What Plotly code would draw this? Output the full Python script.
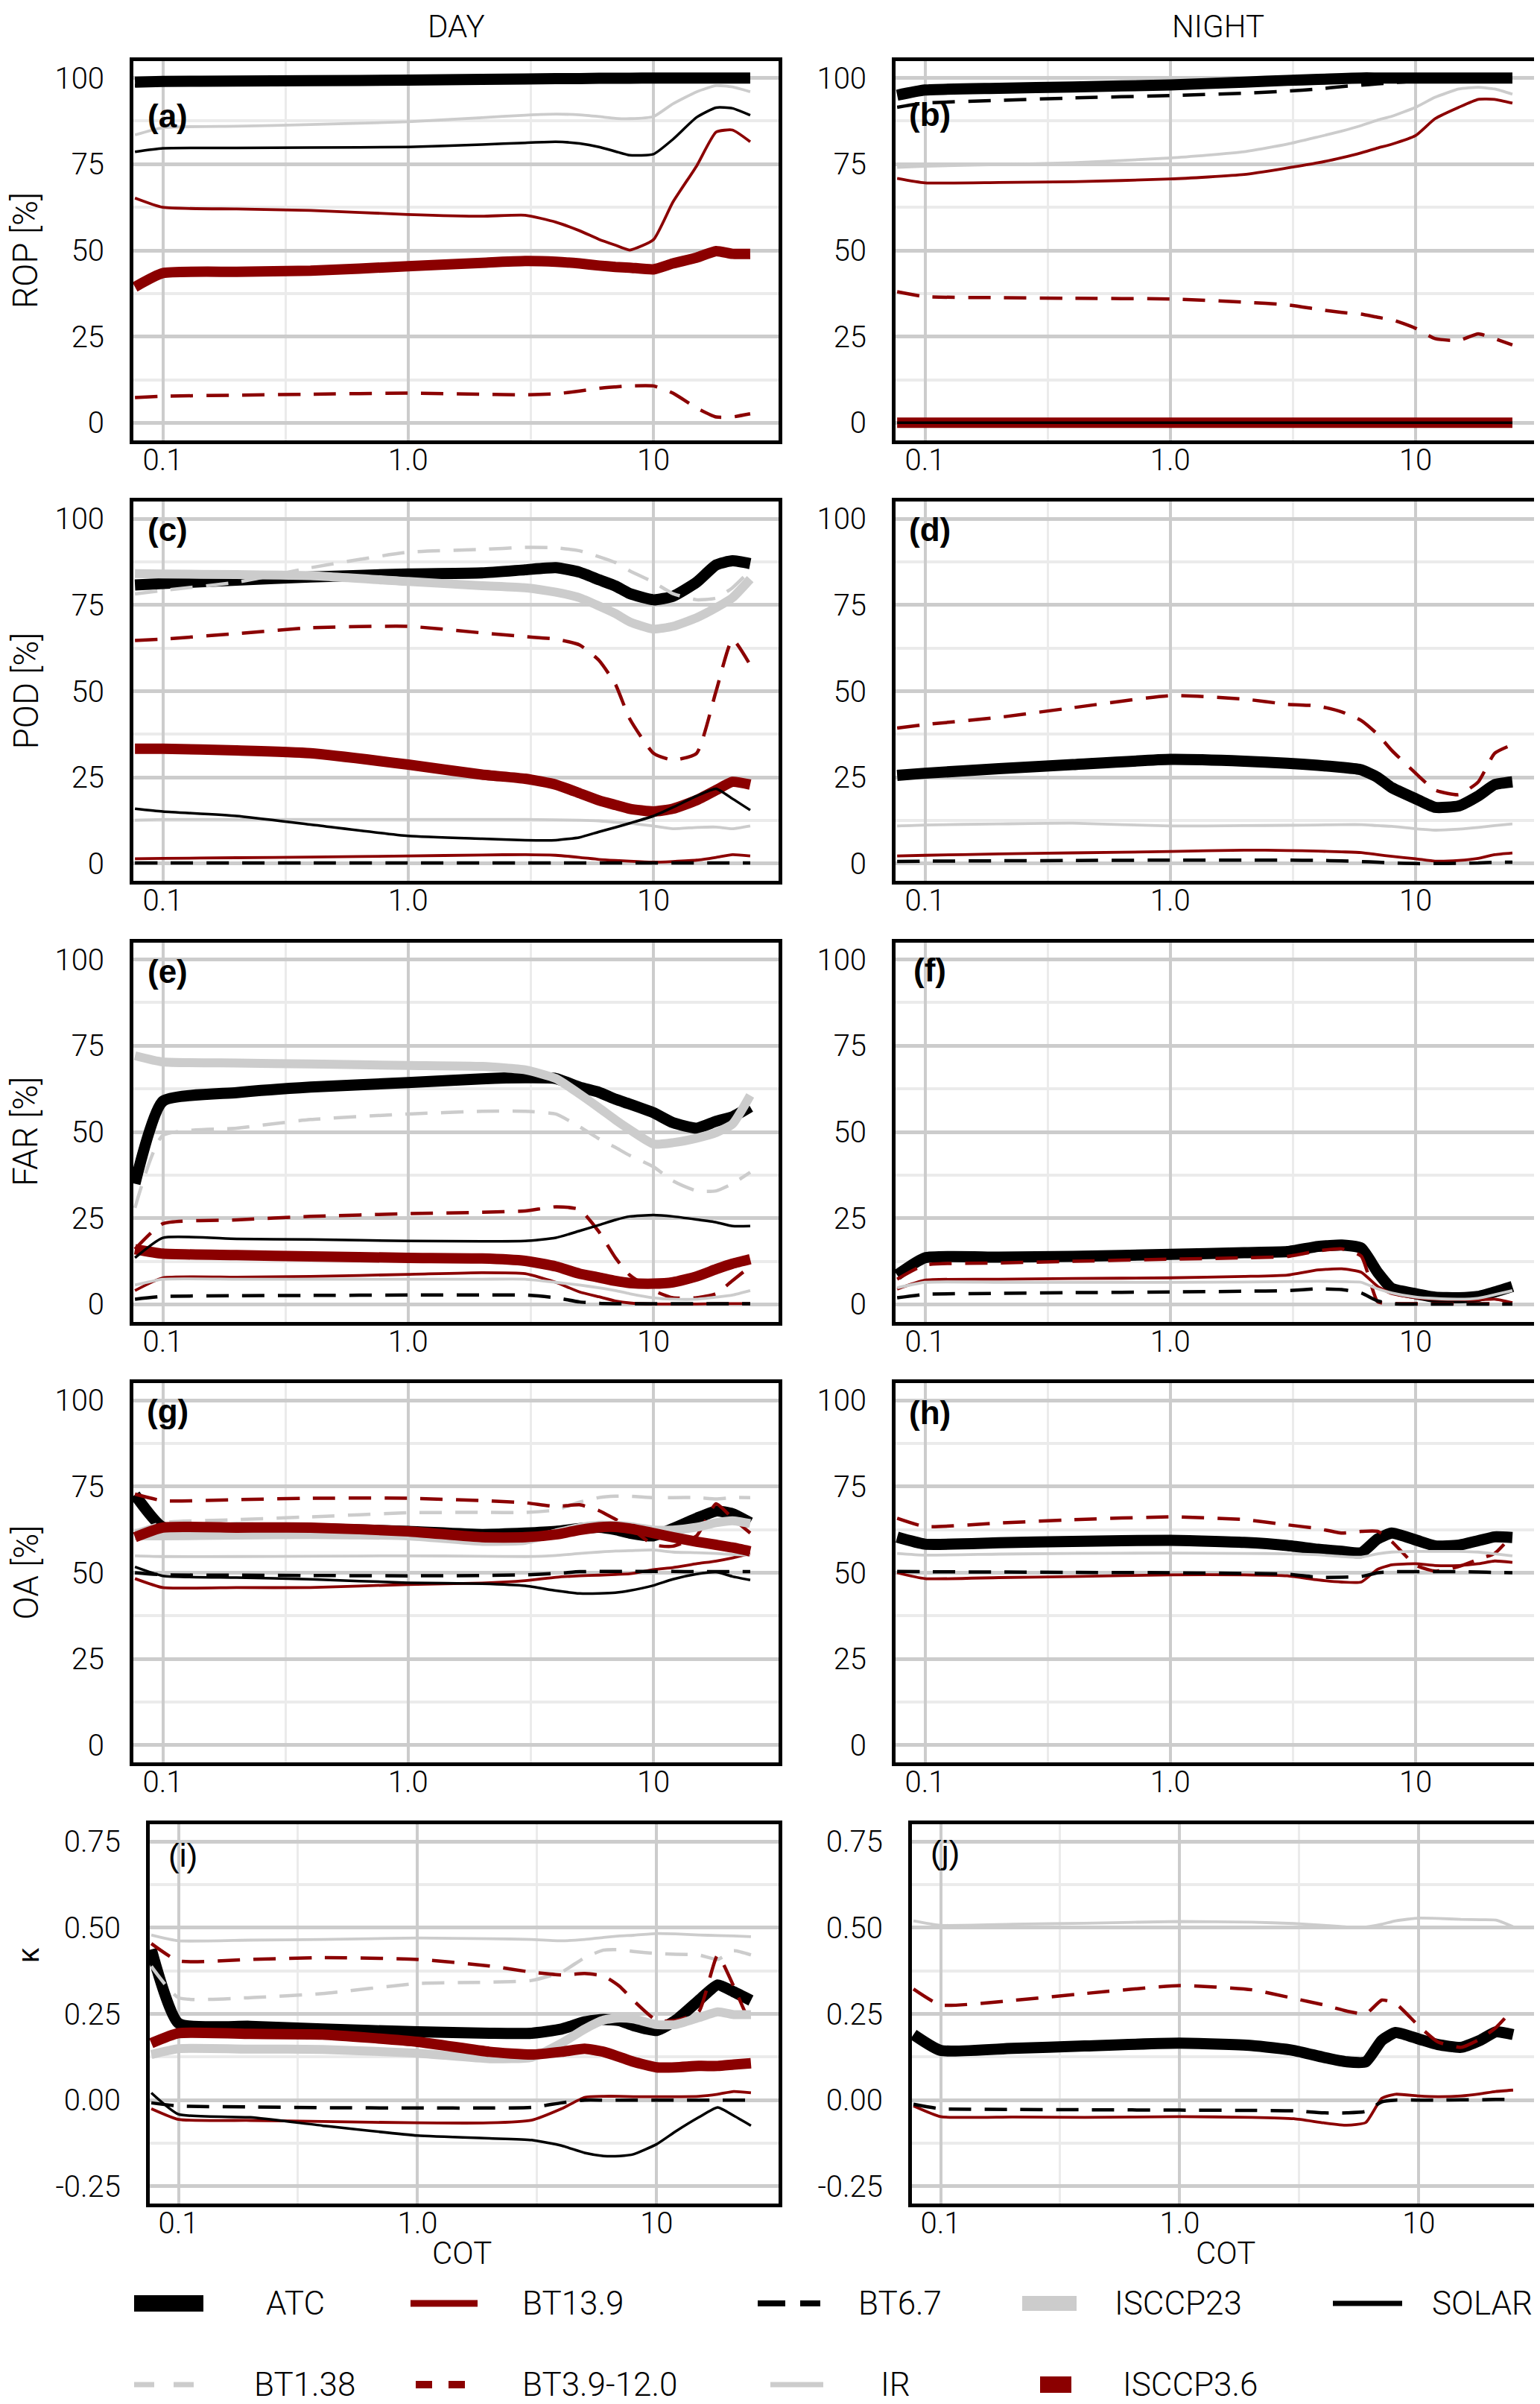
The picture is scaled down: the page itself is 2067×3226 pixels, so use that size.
import plotly.graph_objects as go

W, H = 2067, 3226

COT = [0.077, 0.1, 0.2, 0.4, 1.0, 2.0, 3.0, 4.0, 5.0, 6.0, 7.0, 8.0, 10.0, 12.0, 15.0, 18.0, 21.0, 24.8]
SERIES_ORDER = ["ATC", "BT1.38", "BT13.9", "BT3.9-12.0", "BT6.7", "IR", "ISCCP23", "ISCCP3.6", "SOLAR"]

ROP_DAY = {
    "ATC":       [98.8, 99.0, 99.1, 99.2, 99.4, 99.6, 99.7, 99.8, 99.8, 99.9, 99.9, 99.9, 100, 100, 100, 100, 100, 100],
    "BT6.7":     [97.8, 98.0, 98.2, 98.4, 98.7, 99.0, 99.2, 99.3, 99.4, 99.5, 99.6, 99.7, 99.8, 99.9, 100, 100, 100, 100],
    "IR":        [83.5, 85.6, 86.0, 86.5, 87.3, 88.5, 89.2, 89.5, 89.3, 88.8, 88.3, 88.2, 88.8, 92.5, 96.0, 97.8, 97.4, 96.0],
    "SOLAR":     [78.6, 79.6, 79.7, 79.8, 80.0, 80.7, 81.2, 81.5, 81.0, 80.0, 78.7, 77.6, 77.9, 82.2, 88.6, 91.4, 91.2, 89.2],
    "BT13.9":    [65.2, 62.5, 62.0, 61.6, 60.4, 59.9, 60.2, 58.2, 55.7, 53.2, 51.5, 50.1, 53.1, 64.0, 74.5, 84.3, 84.9, 81.5],
    "ISCCP3.6":  [39.4, 43.4, 43.8, 44.1, 45.4, 46.4, 46.9, 46.7, 46.2, 45.6, 45.2, 45.0, 44.5, 46.2, 47.9, 49.8, 49.0, 49.0],
    "BT3.9-12.0": [7.3, 7.7, 8.0, 8.3, 8.6, 8.3, 8.1, 8.4, 9.2, 10.0, 10.4, 10.7, 10.7, 8.6, 4.3, 1.7, 1.7, 2.6],
}
ROP_NIGHT = {
    "ATC":       [95.0, 96.5, 97.0, 97.4, 98.0, 98.8, 99.3, 99.6, 99.8, 100, 100, 100, 100, 100, 100, 100, 100, 100],
    "BT6.7":     [91.5, 92.7, 93.5, 94.2, 94.9, 95.6, 96.2, 96.8, 97.5, 97.9, 98.3, 98.6, 99.1, 99.5, 99.8, 100, 100, 100],
    "IR":        [74.1, 74.4, 74.9, 75.4, 76.8, 78.6, 80.8, 82.9, 84.6, 86.2, 87.8, 88.9, 91.5, 94.4, 96.8, 97.3, 96.8, 95.3],
    "BT13.9":    [70.9, 69.6, 69.7, 69.9, 70.7, 72.0, 73.9, 75.4, 76.9, 78.3, 79.7, 80.8, 83.3, 88.2, 91.5, 93.8, 93.8, 92.7],
    "BT3.9-12.0": [38.0, 36.6, 36.3, 36.1, 35.9, 35.0, 34.2, 32.9, 32.0, 31.5, 30.6, 29.9, 27.4, 24.4, 23.9, 25.8, 24.4, 22.6],
    "ISCCP3.6":  [0, 0, 0, 0, 0, 0, 0, 0, 0, 0, 0, 0, 0, 0, 0, 0, 0, 0],
    "SOLAR":     [0, 0, 0, 0, 0, 0, 0, 0, 0, 0, 0, 0, 0, 0, 0, 0, 0, 0],
}
POD_DAY = {
    "ATC":       [80.8, 81.2, 82.2, 83.1, 84.0, 84.3, 85.2, 85.8, 84.5, 82.3, 80.5, 78.3, 76.5, 77.5, 81.6, 86.6, 87.8, 87.0],
    "BT1.38":    [78.2, 79.2, 81.6, 85.8, 90.3, 91.1, 91.7, 91.6, 90.7, 89.0, 87.3, 84.9, 81.6, 78.3, 76.5, 77.0, 80.0, 85.0],
    "BT13.9":    [1.4, 1.5, 1.7, 1.9, 2.2, 2.5, 2.6, 2.4, 1.8, 1.2, 0.9, 0.7, 0.4, 0.6, 1.0, 1.8, 2.6, 2.2],
    "BT3.9-12.0": [64.7, 65.1, 66.7, 68.4, 68.8, 66.9, 65.8, 65.1, 63.4, 58.9, 52.0, 42.0, 32.0, 30.0, 32.0, 50.0, 65.0, 57.6],
    "BT6.7":     [0.2, 0.2, 0.2, 0.2, 0.2, 0.2, 0.2, 0.2, 0.2, 0.2, 0.2, 0.2, 0.2, 0.2, 0.2, 0.2, 0.2, 0.2],
    "IR":        [12.6, 12.8, 12.8, 12.8, 12.8, 12.8, 12.8, 12.7, 12.6, 12.4, 12.0, 11.7, 10.9, 10.1, 10.5, 10.6, 10.1, 10.9],
    "ISCCP23":   [84.1, 84.0, 83.8, 83.5, 81.8, 80.6, 80.0, 78.7, 77.1, 74.7, 72.5, 70.1, 68.0, 68.8, 71.3, 74.2, 77.1, 82.5],
    "ISCCP3.6":  [33.3, 33.3, 32.8, 32.0, 28.7, 25.8, 24.6, 22.9, 20.4, 18.3, 17.0, 15.9, 15.1, 15.9, 18.4, 21.3, 23.7, 22.9],
    "SOLAR":     [15.9, 15.1, 13.8, 11.3, 8.0, 7.2, 6.8, 6.8, 7.6, 9.2, 10.5, 11.7, 13.8, 16.3, 19.6, 21.7, 18.8, 15.5],
}
POD_NIGHT = {
    "ATC":       [25.6, 26.2, 27.5, 28.7, 30.2, 29.7, 29.1, 28.5, 27.9, 27.2, 25.0, 22.0, 18.8, 16.3, 16.7, 19.6, 22.9, 23.7],
    "BT13.9":    [2.2, 2.4, 2.8, 3.1, 3.5, 3.9, 3.8, 3.6, 3.4, 3.2, 2.6, 2.1, 1.4, 0.7, 0.9, 1.5, 2.6, 3.1],
    "BT3.9-12.0": [39.3, 40.3, 42.4, 45.2, 48.7, 47.7, 46.2, 45.7, 44.0, 41.5, 37.5, 32.8, 26.2, 21.3, 20.0, 23.7, 32.0, 34.5],
    "BT6.7":     [0.6, 0.7, 0.8, 0.9, 1.0, 1.0, 1.0, 0.9, 0.8, 0.6, 0.4, 0.2, 0.0, 0.0, 0.1, 0.2, 0.4, 0.4],
    "IR":        [10.9, 11.2, 11.5, 11.7, 10.9, 11.0, 11.1, 11.2, 11.3, 11.3, 11.0, 10.8, 10.1, 9.7, 10.0, 10.5, 11.0, 11.5],
}
FAR_DAY = {
    "ATC":       [35.0, 58.9, 61.4, 63.0, 64.3, 65.4, 65.7, 65.5, 63.0, 61.5, 59.5, 58.1, 55.6, 52.7, 51.1, 53.1, 54.4, 57.3],
    "BT1.38":    [28.0, 49.0, 51.1, 53.6, 55.2, 56.0, 56.0, 55.2, 51.5, 48.0, 45.5, 43.2, 39.9, 35.8, 32.9, 32.9, 35.0, 38.3],
    "BT13.9":    [4.0, 7.7, 7.9, 8.1, 8.7, 9.2, 8.9, 6.4, 3.6, 2.2, 1.0, 0.4, 0.1, 0.1, 0.1, 0.2, 0.2, 0.2],
    "BT3.9-12.0": [16.0, 23.4, 24.5, 25.5, 26.3, 26.7, 27.1, 28.3, 27.5, 21.0, 13.5, 8.5, 4.0, 1.9, 1.9, 3.1, 6.9, 11.0],
    "BT6.7":     [1.5, 2.3, 2.5, 2.6, 2.7, 2.7, 2.7, 1.9, 0.7, 0.3, 0.2, 0.2, 0.2, 0.2, 0.2, 0.2, 0.2, 0.2],
    "IR":        [5.6, 7.3, 7.3, 7.3, 7.3, 7.3, 7.3, 6.4, 5.6, 4.8, 4.0, 3.1, 1.9, 1.5, 1.5, 2.1, 2.7, 4.0],
    "ISCCP23":   [72.1, 70.3, 70.0, 69.7, 69.3, 69.0, 68.0, 65.5, 61.0, 57.0, 53.5, 50.7, 46.5, 46.9, 48.2, 49.8, 52.3, 60.6],
    "ISCCP3.6":  [16.0, 14.7, 14.3, 13.9, 13.5, 13.3, 12.6, 11.0, 8.9, 7.8, 6.8, 6.2, 6.0, 6.4, 8.1, 10.2, 11.8, 13.1],
    "SOLAR":     [13.5, 19.3, 19.0, 18.8, 18.4, 18.3, 18.4, 19.3, 21.3, 23.0, 24.5, 25.5, 25.9, 25.5, 24.6, 23.8, 22.7, 22.7],
}
FAR_NIGHT = {
    "ATC":       [8.5, 13.5, 13.7, 13.9, 14.5, 15.0, 15.3, 16.8, 17.2, 16.3, 9.3, 4.6, 3.1, 2.1, 1.9, 2.3, 3.6, 5.2],
    "BT13.9":    [4.4, 7.0, 7.3, 7.5, 7.7, 8.1, 8.5, 10.0, 10.3, 9.3, 5.2, 3.1, 1.9, 1.5, 1.4, 1.3, 1.5, 0.5],
    "BT3.9-12.0": [7.3, 11.4, 12.0, 12.5, 13.1, 13.5, 13.9, 15.5, 16.1, 14.0, 0.8, 0.2, 0.2, 0.2, 0.2, 0.2, 0.2, 0.2],
    "BT6.7":     [1.9, 2.9, 3.2, 3.4, 3.6, 3.8, 4.0, 4.5, 4.3, 3.3, 1.0, 0.2, 0.1, 0.1, 0.1, 0.1, 0.1, 0.1],
    "IR":        [4.8, 6.4, 6.4, 6.4, 6.4, 6.5, 6.6, 6.7, 6.6, 6.4, 4.5, 3.3, 2.1, 1.7, 1.5, 1.8, 2.8, 4.0],
}
OA_DAY = {
    "ATC":       [72.6, 63.2, 63.0, 62.8, 62.0, 61.1, 61.5, 62.0, 62.8, 63.2, 62.5, 61.5, 60.7, 62.8, 65.8, 67.9, 67.1, 64.5],
    "BT1.38":    [62.0, 64.5, 65.4, 66.2, 67.4, 67.5, 67.5, 68.2, 70.5, 71.8, 72.2, 72.2, 71.8, 71.8, 71.8, 71.4, 71.8, 71.8],
    "BT13.9":    [48.3, 45.7, 45.7, 45.7, 46.6, 47.0, 47.7, 48.7, 49.1, 49.3, 49.5, 49.7, 50.9, 51.5, 52.6, 53.4, 54.3, 55.6],
    "BT3.9-12.0": [72.8, 70.9, 71.2, 71.6, 71.6, 70.9, 70.3, 69.2, 69.7, 68.0, 65.5, 63.2, 58.1, 57.7, 60.7, 70.0, 65.8, 61.5],
    "BT6.7":     [50.0, 49.4, 49.3, 49.2, 49.1, 49.2, 49.4, 49.8, 50.3, 50.4, 50.4, 50.4, 50.4, 50.4, 50.3, 50.3, 50.3, 50.3],
    "IR":        [54.9, 54.7, 54.7, 54.8, 54.9, 54.8, 54.7, 55.0, 55.6, 56.0, 56.3, 56.4, 56.6, 56.0, 55.8, 55.6, 55.3, 55.1],
    "ISCCP23":   [60.7, 60.7, 60.9, 61.1, 60.7, 59.1, 59.4, 61.5, 63.1, 63.8, 63.7, 63.4, 62.4, 62.4, 63.2, 64.5, 65.1, 64.3],
    "ISCCP3.6":  [60.3, 63.1, 63.1, 63.1, 62.0, 60.3, 60.3, 61.1, 62.4, 63.2, 63.3, 62.8, 61.5, 60.3, 59.0, 58.1, 57.3, 56.2],
    "SOLAR":     [51.7, 49.1, 48.6, 48.1, 47.1, 46.8, 46.2, 44.8, 44.0, 44.0, 44.2, 44.8, 46.3, 48.1, 49.6, 50.2, 48.9, 47.9],
}
OA_NIGHT = {
    "ATC":       [60.3, 58.3, 58.7, 59.1, 59.4, 58.8, 57.9, 56.8, 56.2, 55.8, 59.8, 61.5, 59.5, 57.8, 58.0, 59.3, 60.4, 60.2],
    "BT13.9":    [50.0, 48.3, 48.6, 48.9, 49.4, 49.4, 49.1, 47.9, 47.3, 47.3, 51.0, 52.3, 52.6, 52.1, 52.1, 52.6, 53.4, 53.0],
    "BT3.9-12.0": [65.8, 63.4, 64.4, 65.4, 66.2, 65.4, 63.9, 62.8, 61.5, 62.0, 62.0, 59.0, 52.2, 50.5, 51.8, 53.9, 55.6, 60.9],
    "BT6.7":     [50.4, 50.3, 50.2, 50.1, 50.0, 49.8, 49.6, 48.7, 48.7, 48.9, 50.0, 50.3, 50.3, 50.3, 50.3, 50.2, 50.1, 50.0],
    "IR":        [55.6, 55.1, 55.4, 55.6, 55.7, 55.6, 55.5, 55.2, 54.7, 54.5, 55.5, 56.0, 56.2, 56.2, 56.2, 56.0, 55.5, 54.9],
}
KAPPA_DAY = {
    "ATC":       [0.437, 0.223, 0.214, 0.206, 0.198, 0.194, 0.194, 0.206, 0.227, 0.234, 0.230, 0.216, 0.202, 0.231, 0.289, 0.334, 0.314, 0.289],
    "BT1.38":    [0.388, 0.297, 0.297, 0.309, 0.338, 0.342, 0.347, 0.371, 0.413, 0.435, 0.436, 0.431, 0.425, 0.423, 0.421, 0.408, 0.433, 0.421],
    "BT13.9":    [-0.025, -0.056, -0.059, -0.062, -0.066, -0.066, -0.058, -0.025, 0.008, 0.011, 0.011, 0.010, 0.010, 0.010, 0.011, 0.017, 0.025, 0.021],
    "BT3.9-12.0": [0.454, 0.404, 0.408, 0.413, 0.408, 0.389, 0.371, 0.363, 0.367, 0.360, 0.330, 0.289, 0.231, 0.231, 0.256, 0.420, 0.330, 0.215],
    "BT6.7":     [-0.008, -0.017, -0.020, -0.022, -0.023, -0.023, -0.021, -0.008, 0.0, 0.0, 0.0, 0.0, 0.0, 0.0, 0.0, 0.0, 0.0, 0.0],
    "IR":        [0.479, 0.462, 0.464, 0.466, 0.470, 0.468, 0.466, 0.462, 0.466, 0.472, 0.476, 0.478, 0.483, 0.482, 0.479, 0.477, 0.476, 0.474],
    "ISCCP23":   [0.132, 0.149, 0.148, 0.147, 0.136, 0.120, 0.124, 0.165, 0.206, 0.232, 0.238, 0.235, 0.219, 0.219, 0.239, 0.256, 0.248, 0.248],
    "ISCCP3.6":  [0.165, 0.194, 0.192, 0.190, 0.169, 0.140, 0.132, 0.140, 0.149, 0.140, 0.125, 0.111, 0.095, 0.095, 0.099, 0.099, 0.103, 0.107],
    "SOLAR":     [0.021, -0.041, -0.050, -0.074, -0.103, -0.111, -0.116, -0.132, -0.153, -0.162, -0.162, -0.157, -0.128, -0.091, -0.050, -0.021, -0.045, -0.074],
}
KAPPA_NIGHT = {
    "ATC":       [0.190, 0.144, 0.150, 0.157, 0.165, 0.158, 0.144, 0.124, 0.111, 0.111, 0.173, 0.196, 0.177, 0.161, 0.153, 0.173, 0.198, 0.190],
    "BT13.9":    [-0.017, -0.048, -0.049, -0.050, -0.048, -0.050, -0.054, -0.066, -0.073, -0.065, 0.005, 0.017, 0.012, 0.010, 0.012, 0.018, 0.025, 0.029],
    "BT3.9-12.0": [0.322, 0.276, 0.289, 0.309, 0.332, 0.320, 0.295, 0.276, 0.258, 0.250, 0.290, 0.280, 0.215, 0.169, 0.153, 0.177, 0.210, 0.264],
    "BT6.7":     [-0.012, -0.025, -0.027, -0.028, -0.029, -0.030, -0.031, -0.037, -0.037, -0.033, -0.005, 0.0, 0.0, 0.0, 0.001, 0.001, 0.002, 0.002],
    "IR":        [0.520, 0.507, 0.510, 0.513, 0.518, 0.516, 0.512, 0.507, 0.502, 0.502, 0.510, 0.520, 0.528, 0.527, 0.524, 0.523, 0.522, 0.503],
}

PCT_TICKS = [0, 25, 50, 75, 100]
PCT_MINOR = [12.5, 37.5, 62.5, 87.5]
K_TICKS = [-0.25, 0.0, 0.25, 0.5, 0.75]
K_TICKTEXT = ["-0.25", "0.00", "0.25", "0.50", "0.75"]
K_MINOR = [-0.125, 0.125, 0.375, 0.625]
X_TICKS = [0.1, 1.0, 10.0]
X_TICKTEXT = ["0.1", "1.0", "10"]

STYLE = {
    "ATC":        dict(color="#000000", width=15, dash="solid"),
    "BT1.38":     dict(color="#CCCCCC", width=4.5, dash="30px,18px"),
    "BT13.9":     dict(color="#8B0000", width=3.8, dash="solid"),
    "BT3.9-12.0": dict(color="#8B0000", width=4.5, dash="30px,18px"),
    "BT6.7":      dict(color="#000000", width=4.5, dash="30px,18px"),
    "IR":         dict(color="#CCCCCC", width=3.8, dash="solid"),
    "ISCCP23":    dict(color="#CCCCCC", width=12, dash="solid"),
    "ISCCP3.6":   dict(color="#8B0000", width=14, dash="solid"),
    "SOLAR":      dict(color="#000000", width=3.5, dash="solid"),
}

PANELS = [
    ("(a)", ROP_DAY, 0, 0, "pct", "ROP [%]", 89),
    ("(b)", ROP_NIGHT, 0, 1, "pct", None, 89.5),
    ("(c)", POD_DAY, 1, 0, "pct", "POD [%]", 97),
    ("(d)", POD_NIGHT, 1, 1, "pct", None, 97),
    ("(e)", FAR_DAY, 2, 0, "pct", "FAR [%]", 96.5),
    ("(f)", FAR_NIGHT, 2, 1, "pct", None, 97),
    ("(g)", OA_DAY, 3, 0, "pct", "OA [%]", 97),
    ("(h)", OA_NIGHT, 3, 1, "pct", None, 96.5),
    ("(i)", KAPPA_DAY, 4, 0, "k", "κ", 0.71),
    ("(j)", KAPPA_NIGHT, 4, 1, "k", None, 0.72),
]

FONT = "Roboto, Liberation Sans, Arial, sans-serif"
FW = 300
BOLDFONT = "Liberation Sans, Arial, sans-serif"

COL_X = [(171, 1037), (1194, 2060)]
COL_X_K = [(193, 1037), (1216, 2060)]
ROW_TOP = [73.5, 665, 1256.5, 1848, 2440]
PANEL_H = 509

fig = go.Figure()
layout = dict(
    width=W, height=H, margin=dict(l=0, r=0, t=0, b=0),
    paper_bgcolor="white", plot_bgcolor="white", showlegend=False,
    font=dict(family=FONT, size=40, color="#000000", weight=FW),
)
annotations = []
shapes = []


def px_x(v):
    return v / W


def px_y(v):
    return 1 - v / H


for i, (lab, data, r, c, kind, ytitle, laby) in enumerate(PANELS, start=1):
    x0, x1 = (COL_X_K if kind == "k" else COL_X)[c]
    top = ROW_TOP[r]
    bot = top + PANEL_H
    xa = "xaxis" if i == 1 else f"xaxis{i}"
    ya = "yaxis" if i == 1 else f"yaxis{i}"
    xr = "x" if i == 1 else f"x{i}"
    yr = "y" if i == 1 else f"y{i}"
    layout[xa] = dict(
        domain=[px_x(x0), px_x(x1)], anchor=yr, type="log", range=[-1.12, 1.51],
        tickmode="array", tickvals=X_TICKS, ticktext=X_TICKTEXT,
        showgrid=True, gridcolor="#CCCCCC", gridwidth=3.5,
        minor=dict(tickmode="array", tickvals=[10 ** -0.5, 10 ** 0.5], showgrid=True,
                   gridcolor="#EBEBEB", gridwidth=2.5, ticks=""),
        showline=True, mirror=True, linecolor="#000000", linewidth=5,
        zeroline=False, ticks="", ticklen=0, ticklabelstandoff=-13,
        tickfont=dict(family=FONT, size=40, color="#000000", weight=FW),
    )
    if kind == "pct":
        yrange, tv, tt, mv = [-5, 105], PCT_TICKS, [str(t) for t in PCT_TICKS], PCT_MINOR
    else:
        yrange, tv, tt, mv = [-0.30, 0.80], K_TICKS, K_TICKTEXT, K_MINOR
    layout[ya] = dict(
        domain=[px_y(bot), px_y(top)], anchor=xr, range=yrange,
        tickmode="array", tickvals=tv, ticktext=tt,
        showgrid=True, gridcolor="#CCCCCC", gridwidth=5,
        minor=dict(tickmode="array", tickvals=mv, showgrid=True,
                   gridcolor="#EBEBEB", gridwidth=3.5, ticks=""),
        showline=True, mirror=True, linecolor="#000000", linewidth=5,
        zeroline=False, ticks="", ticklen=0, ticklabelstandoff=26,
        tickfont=dict(family=FONT, size=40, color="#000000", weight=FW),
    )
    for name in SERIES_ORDER:
        if name not in data:
            continue
        st = STYLE[name]
        fig.add_trace(go.Scatter(
            x=COT, y=data[name], mode="lines", name=name, xaxis=xr, yaxis=yr,
            line=dict(color=st["color"], width=st["width"], dash=st["dash"],
                      shape="spline", smoothing=0.5),
            showlegend=False, hoverinfo="skip",
        ))
    bold = kind != "k"
    annotations.append(dict(
        x=-0.98, y=laby, xref=xr, yref=yr, text=f"<b>{lab}</b>" if bold else lab,
        showarrow=False, xanchor="center", yanchor="middle",
        font=dict(family=BOLDFONT, size=44, color="#000000"),
    ))
    if ytitle is not None:
        if kind == "k":
            annotations.append(dict(
                x=px_x(30), y=px_y(2616), xref="paper", yref="paper", text=ytitle,
                showarrow=False, textangle=-90, xanchor="center", yanchor="middle",
                font=dict(family=BOLDFONT, size=40, color="#000000"),
            ))
        else:
            annotations.append(dict(
                x=px_x(26), y=px_y((top + bot) / 2), xref="paper", yref="paper", text=ytitle,
                showarrow=False, textangle=-90, xanchor="center", yanchor="middle",
                font=dict(family=FONT, size=46, color="#000000", weight=FW),
            ))

for txt, cx, cy in [("DAY", 604, 28), ("NIGHT", 1627, 28), ("COT", 612, 3015), ("COT", 1637, 3015)]:
    annotations.append(dict(
        x=px_x(cx), y=px_y(cy), xref="paper", yref="paper", text=txt, showarrow=False,
        xanchor="center", yanchor="middle", font=dict(family=FONT, size=42, color="#000000", weight=FW),
    ))

LEGEND = [
    ("ATC", 172, 265, 3083, 347, 22, "solid"),
    ("BT13.9", 543, 633, 3083, 691, 9, "solid"),
    ("BT6.7", 1009, 1093, 3083, 1142, 8, "37px,20px"),
    ("ISCCP23", 1364, 1437, 3083, 1486, 20, "solid"),
    ("SOLAR", 1781, 1874, 3083, 1912, 7, "solid"),
    ("BT1.38", 172, 252, 3192, 331, 7, "27px,26px"),
    ("BT3.9-12.0", 550, 623, 3192, 691, 10, "22px,22px"),
    ("IR", 1026, 1097, 3192, 1172, 7, "solid"),
    ("ISCCP3.6", 1388, 1430, 3192, 1497, 22, "solid"),
]
for name, kx0, kx1, ky, tx, lw, dash in LEGEND:
    shapes.append(dict(
        type="line", xref="paper", yref="paper", x0=px_x(kx0), x1=px_x(kx1), y0=px_y(ky), y1=px_y(ky),
        line=dict(color=STYLE[name]["color"], width=lw, dash=dash),
    ))
    annotations.append(dict(
        x=px_x(tx), y=px_y(ky), xref="paper", yref="paper", text=name, showarrow=False,
        xanchor="left", yanchor="middle", font=dict(family=FONT, size=44, color="#000000", weight=FW),
    ))

layout["annotations"] = annotations
layout["shapes"] = shapes
fig.update_layout(**layout)
fig.write_html("out.html")
